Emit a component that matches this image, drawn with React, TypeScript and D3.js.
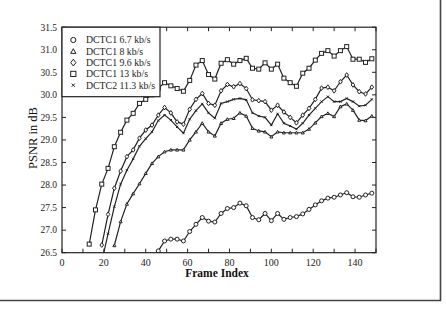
import React from "react";
import * as d3 from "d3";

const framesSquare = [13,16,19,22,25,28,31,34,37,40,43,46,49,52,55,58,61,64,67,70,73,76,79,82,85,88,91,94,97,100,103,106,109,112,115,118,121,124,127,130,133,136,139,142,145,148];
const dctc1_13 = [26.69,27.45,28.02,28.37,28.85,29.17,29.44,29.59,29.81,29.90,30.0,30.15,30.27,30.20,30.14,30.08,30.32,30.66,30.76,30.45,30.35,30.70,30.78,30.68,30.76,30.81,30.59,30.57,30.71,30.57,30.68,30.37,30.27,30.19,30.48,30.59,30.77,30.92,30.98,30.86,30.98,31.07,30.79,30.79,30.72,30.80];

const framesDiamond = [19,22,25,28,31,34,37,40,43,46,49,52,55,58,61,64,67,70,73,76,79,82,85,88,91,94,97,100,103,106,109,112,115,118,121,124,127,130,133,136,139,142,145,148];
const dctc1_96 = [26.67,27.35,27.93,28.31,28.63,28.78,29.04,29.22,29.33,29.55,29.72,29.60,29.40,29.35,29.68,29.90,30.03,29.81,29.77,30.09,30.23,30.18,30.25,30.14,29.89,29.87,29.85,29.66,29.77,29.62,29.50,29.38,29.55,29.70,29.90,30.15,30.17,30.09,30.29,30.44,30.22,30.07,30.02,30.17];

const framesCross = [19,22,25,28,31,34,37,40,43,46,49,52,55,58,61,64,67,70,73,76,79,82,85,88,91,94,97,100,103,106,109,112,115,118,121,124,127,130,133,136,139,142,145,148];
const dctc2_113 = [26.30,26.92,27.52,28.02,28.33,28.58,28.86,29.03,29.18,29.43,29.55,29.44,29.29,29.15,29.46,29.65,29.80,29.60,29.48,29.81,29.85,29.90,29.92,29.89,29.60,29.53,29.50,29.33,29.58,29.37,29.31,29.24,29.37,29.55,29.70,29.85,29.96,29.85,29.85,29.92,29.85,29.75,29.77,29.90];

const framesTriangle = [25,28,31,34,37,40,43,46,49,52,55,58,61,64,67,70,73,76,79,82,85,88,91,94,97,100,103,106,109,112,115,118,121,124,127,130,133,136,139,142,145,148];
const dctc1_8 = [26.66,27.19,27.58,27.81,28.03,28.26,28.48,28.63,28.74,28.78,28.78,28.78,29.00,29.18,29.37,29.18,29.09,29.37,29.46,29.48,29.60,29.53,29.26,29.20,29.18,29.07,29.18,29.16,29.16,29.16,29.16,29.24,29.38,29.52,29.59,29.52,29.74,29.80,29.66,29.44,29.43,29.53];

const framesCircle = [46,49,52,55,58,61,64,67,70,73,76,79,82,85,88,91,94,97,100,103,106,109,112,115,118,121,124,127,130,133,136,139,142,145,148];
const dctc1_67 = [26.54,26.76,26.80,26.80,26.76,26.97,27.13,27.28,27.20,27.18,27.37,27.48,27.50,27.60,27.54,27.28,27.23,27.37,27.21,27.37,27.24,27.28,27.30,27.36,27.46,27.56,27.65,27.71,27.73,27.78,27.83,27.74,27.73,27.78,27.82];

const yTicks = [26.5,27.0,27.5,28.0,28.5,29.0,29.5,30.0,30.5,31.0,31.5];
const xTicks = [0,20,40,60,80,100,120,140];
const legendLabels = ["DCTC1 6.7 kb/s","DCTC1 8 kb/s","DCTC1 9.6 kb/s","DCTC1 13 kb/s","DCTC2 11.3 kb/s"];

const INK = "#222";
const FONT = "'Liberation Serif', 'Times New Roman', serif";

type Kind = "circle" | "triangle" | "diamond" | "square" | "cross";

function Marker({ kind, x, y, s }: { kind: Kind; x: number; y: number; s: number }) {
  const common = { fill: "white", stroke: INK, strokeWidth: 1 };
  if (kind === "circle") return <circle cx={x} cy={y} r={s} {...common} />;
  if (kind === "square") return <rect x={x - s} y={y - s} width={2 * s} height={2 * s} {...common} />;
  if (kind === "diamond")
    return <path d={`M${x},${y - s * 1.3}L${x + s},${y}L${x},${y + s * 1.3}L${x - s},${y}Z`} {...common} />;
  if (kind === "triangle")
    return <path d={`M${x},${y - s}L${x + s},${y + s * 0.8}L${x - s},${y + s * 0.8}Z`} {...common} />;
  return (
    <path d={`M${x - s},${y - s}L${x + s},${y + s}M${x - s},${y + s}L${x + s},${y - s}`} stroke={INK} strokeWidth={1} fill="none" />
  );
}

export default function App() {
  const left = 62, right = 376, top = 27.2, bottom = 252.7;
  const x = d3.scaleLinear().domain([0, 150]).range([left, right]);
  const y = d3.scaleLinear().domain([26.5, 31.5]).range([bottom, top]);
  const line = d3.line<[number, number]>().x((d) => x(d[0])).y((d) => y(d[1]));

  const series: { frames: number[]; vals: number[]; kind: Kind; s: number }[] = [
    { frames: framesCircle, vals: dctc1_67, kind: "circle", s: 2.0 },
    { frames: framesTriangle, vals: dctc1_8, kind: "triangle", s: 1.5 },
    { frames: framesCross, vals: dctc2_113, kind: "cross", s: 1.1 },
    { frames: framesDiamond, vals: dctc1_96, kind: "diamond", s: 1.8 },
    { frames: framesSquare, vals: dctc1_13, kind: "square", s: 2.0 },
  ];
  const legendKinds: Kind[] = ["circle", "triangle", "diamond", "square", "cross"];
  const minorX = d3.range(0, 151, 10);

  return (
    <svg width={446} height={314} style={{ position: "absolute", left: 0, top: 0, background: "white" }}>
      <rect x={0} y={0} width={446} height={314} fill="white" />
      <path d="M0,300.5H440.5V0" fill="none" stroke="#444" strokeWidth={1.6} />
      <defs>
        <clipPath id="plotclip">
          <rect x={left} y={top} width={right - left} height={bottom - top} />
        </clipPath>
      </defs>
      <g clipPath="url(#plotclip)">
        {series.map((se, i) => {
          const pts: [number, number][] = se.frames.map((f, j) => [f, se.vals[j]]);
          return (
            <g key={i}>
              <path d={line(pts) || ""} fill="none" stroke={INK} strokeWidth={1.2} />
              {pts.map((p, j) => (
                <Marker key={j} kind={se.kind} x={x(p[0])} y={y(p[1])} s={se.s} />
              ))}
            </g>
          );
        })}
      </g>
      <rect x={left} y={top} width={right - left} height={bottom - top} fill="none" stroke={INK} strokeWidth={1.2} />
      {yTicks.map((t) => (
        <g key={t}>
          <line x1={left} x2={left + 4} y1={y(t)} y2={y(t)} stroke={INK} />
          <line x1={right - 4} x2={right} y1={y(t)} y2={y(t)} stroke={INK} />
          <text x={57} y={y(t) + 3.3} textAnchor="end" fontFamily={FONT} fontSize={9.5} fill={INK}>
            {t.toFixed(1)}
          </text>
        </g>
      ))}
      {minorX.map((t) => (
        <g key={t}>
          <line x1={x(t)} x2={x(t)} y1={bottom} y2={bottom - 4} stroke={INK} />
          <line x1={x(t)} x2={x(t)} y1={top} y2={top + 4} stroke={INK} />
        </g>
      ))}
      {xTicks.map((t) => (
        <text key={t} x={x(t)} y={265.5} textAnchor="middle" fontFamily={FONT} fontSize={10} fill={INK}>
          {t}
        </text>
      ))}
      <text x={217} y={277} textAnchor="middle" fontFamily={FONT} fontSize={11.5} fontWeight="bold" fill="#111">
        Frame Index
      </text>
      <text transform={`translate(37,138) rotate(-90)`} textAnchor="middle" fontFamily={FONT} fontSize={12.5} fill="#111">
        PSNR in dB
      </text>
      <rect x={left} y={top} width={98} height={69.5} fill="white" stroke={INK} strokeWidth={1.2} />
      {legendLabels.map((lab, i) => {
        const cy = 40 + i * 11.3;
        return (
          <g key={lab}>
            <Marker kind={legendKinds[i]} x={73.3} y={cy} s={legendKinds[i] === "cross" ? 1.6 : 2.6} />
            <text x={86} y={cy + 3.3} fontFamily={FONT} fontSize={9.8} fill={INK}>
              {lab}
            </text>
          </g>
        );
      })}
    </svg>
  );
}
